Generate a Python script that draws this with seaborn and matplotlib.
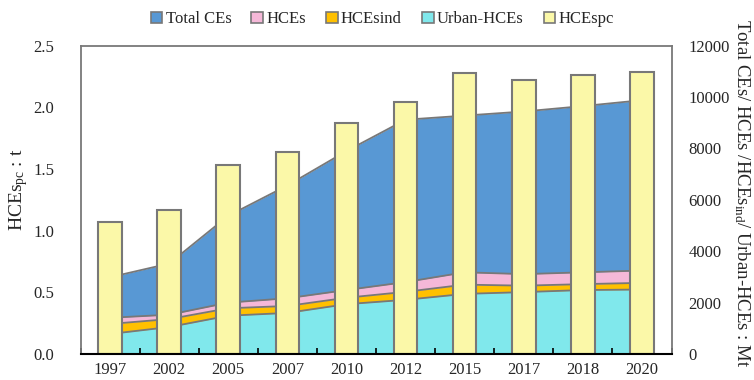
import numpy as np
import matplotlib
matplotlib.use("Agg")
import matplotlib.pyplot as plt
from matplotlib.patches import Patch
from matplotlib.ticker import MultipleLocator, FixedLocator
import seaborn as sns

# values
years = ['1997', '2002', '2005', '2007', '2010', '2012', '2015', '2017', '2018', '2020']
total_ces = [2990, 3520, 5380, 6560, 7900, 9120, 9280, 9440, 9650, 9880]
hces = [1410, 1530, 2000, 2170, 2490, 2800, 3180, 3110, 3180, 3250]
hces_ind = [1170, 1360, 1780, 1870, 2190, 2420, 2700, 2660, 2720, 2770]
urban_hces = [780, 1050, 1490, 1600, 1940, 2110, 2340, 2410, 2490, 2510]
hces_pc = [1.07, 1.17, 1.53, 1.64, 1.87, 2.04, 2.28, 2.22, 2.26, 2.29]

sns.set_theme(style='white')
plt.rcParams['font.family'] = ['Liberation Serif', 'DejaVu Serif']
plt.rcParams['mathtext.default'] = 'regular'

edge = '#787878'
c_total, c_hces, c_ind, c_urban, c_pc = '#5898D4', '#F5B8D8', '#FFC000', '#80E8EC', '#FBF8A8'

fig = plt.figure(figsize=(7.54, 3.80), dpi=100)
ax = fig.add_axes([0.1068, 0.0684, 0.7838, 0.8113])
ax2 = ax.twinx()

# overlapping areas on the right axis
x = np.arange(len(years))
for vals, col in [(total_ces, c_total), (hces, c_hces), (hces_ind, c_ind), (urban_hces, c_urban)]:
    ax2.fill_between(x, 0, vals, color=col, lw=0)
    ax2.plot(x, vals, color=edge, lw=1.3)
ax2.set_ylim(0, 12000)
ax2.yaxis.set_major_locator(MultipleLocator(2000))
ax2.tick_params(axis='y', length=0, pad=12, labelsize=12)
for s in ax2.spines.values():
    s.set_visible(False)

# per-capita bars on the left axis, drawn above the areas
sns.barplot(x=years, y=hces_pc, ax=ax, color=c_pc, saturation=1, width=0.4,
            edgecolor=edge, linewidth=1.5, errorbar=None)
ax.set_zorder(ax2.get_zorder() + 1)
ax.patch.set_visible(False)
ax.set_xlim(-0.5, 9.5)
ax.set_ylim(0, 2.5)
ax.yaxis.set_major_locator(MultipleLocator(0.5))
ax.yaxis.set_major_formatter('{x:.1f}')
ax.xaxis.set_minor_locator(FixedLocator(np.arange(-0.5, 10, 1)))
ax.tick_params(axis='y', length=0, pad=19, labelsize=12)
ax.tick_params(axis='x', which='major', length=0, pad=6, labelsize=12)
ax.tick_params(axis='x', which='minor', length=4, width=1.2, direction='in', color='black', bottom=True)
ax.set_xlabel('')
for side in ['left', 'top', 'right']:
    ax.spines[side].set_color(edge)
    ax.spines[side].set_linewidth(1.3)
ax.spines['bottom'].set_color('black')
ax.spines['bottom'].set_linewidth(1.5)

fig.text(0.024, 0.5, 'HCEs$_{pc}$ : t', rotation=90, ha='center', va='center', fontsize=14)
fig.text(0.984, 0.492, 'Total CEs/ HCEs /HCEs$_{ind}$/ Urban-HCEs : Mt', rotation=270,
         ha='center', va='center', fontsize=13.5)

handles = [Patch(facecolor=c, edgecolor=edge, lw=1.2) for c in [c_total, c_hces, c_ind, c_urban, c_pc]]
labels = ['Total CEs', 'HCEs', 'HCEsind', 'Urban-HCEs', 'HCEspc']
fig.legend(handles, labels, loc='upper center', bbox_to_anchor=(0.507, 1.01), ncol=5,
           frameon=False, fontsize=12, handlelength=0.7, handleheight=0.7,
           handletextpad=0.2, columnspacing=1.2)

fig.savefig('out.png', dpi=100)
